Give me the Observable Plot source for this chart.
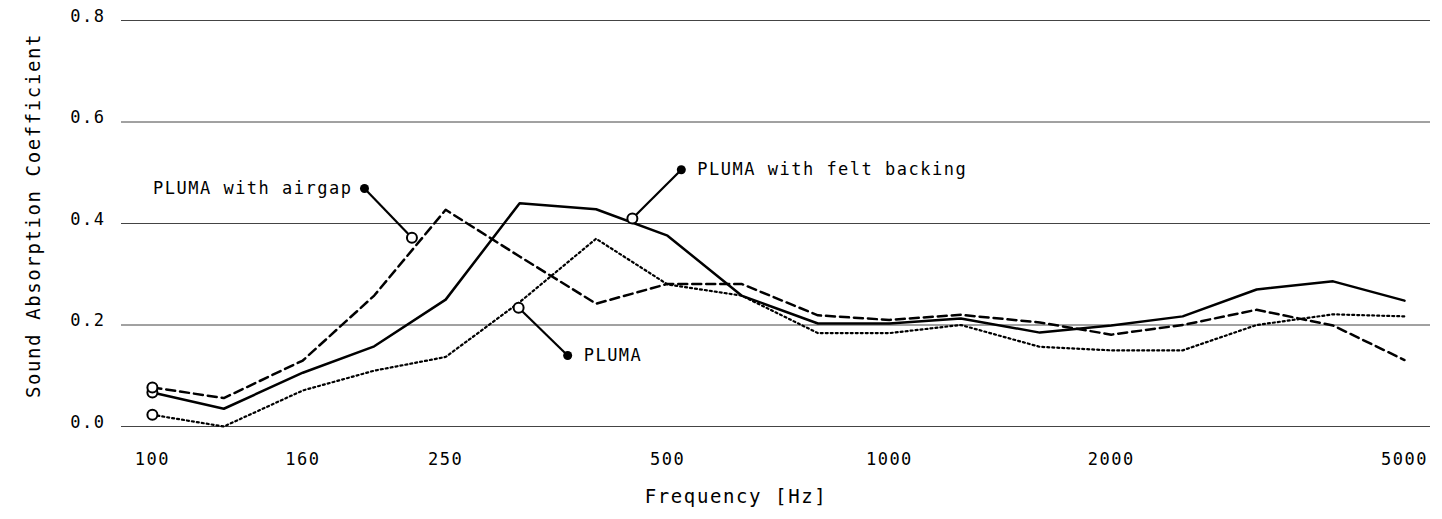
<!DOCTYPE html>
<html>
<head>
<meta charset="utf-8">
<script src="https://cdn.jsdelivr.net/npm/d3@7"></script>
<script src="https://cdn.jsdelivr.net/npm/@observablehq/plot@0.6"></script>
<style>
  html, body { margin: 0; padding: 0; background: #fff; }
  svg text { letter-spacing: 1.5px; }
  .axis-title text, text.axis-title { letter-spacing: 1.6px; }
</style>
</head>
<body>
<div id="chart"></div>
<script>
// Third-octave band centre frequencies (Hz)
const frequencies = [100, 125, 160, 200, 250, 315, 400, 500, 630, 800, 1000, 1250, 1600, 2000, 2500, 3150, 4000, 5000];

// Sound absorption coefficients
const feltBacking = [0.067, 0.035, 0.106, 0.158, 0.250, 0.440, 0.428, 0.376, 0.258, 0.203, 0.203, 0.213, 0.185, 0.199, 0.217, 0.270, 0.286, 0.248];
const airgap      = [0.077, 0.056, 0.130, 0.258, 0.427, 0.335, 0.242, 0.281, 0.281, 0.219, 0.210, 0.220, 0.205, 0.181, 0.200, 0.230, 0.199, 0.131];
const pluma       = [0.023, 0.000, 0.071, 0.110, 0.137, 0.245, 0.370, 0.280, 0.258, 0.184, 0.184, 0.200, 0.157, 0.150, 0.150, 0.200, 0.221, 0.217];

// Axis ticks
const xTicks = [100, 160, 250, 500, 1000, 2000, 5000];
const yTicks = [0, 0.2, 0.4, 0.6, 0.8];

// Annotations: point on curve -> label anchor
const annoLabels  = ["PLUMA with airgap", "PLUMA with felt backing", "PLUMA"];
const annoCurveX  = [225, 448, 314];
const annoCurveY  = [0.372, 0.410, 0.234];
const annoLabelX  = [194, 522, 366];
const annoLabelY  = [0.469, 0.506, 0.140];
const annoAnchor  = ["end", "start", "start"];

const xTitle = "Frequency [Hz]";
const yTitle = "Sound Absorption Coefficient";

const mk = (vals) => frequencies.map((f, i) => ({f, v: vals[i]}));
const sFelt = mk(feltBacking), sAir = mk(airgap), sPluma = mk(pluma);
const startPts = [sFelt[0], sAir[0], sPluma[0]];
const annos = annoLabels.map((t, i) => ({
  t, cx: annoCurveX[i], cy: annoCurveY[i], lx: annoLabelX[i], ly: annoLabelY[i], a: annoAnchor[i]
}));

const font = "'DejaVu Sans Mono', 'Liberation Mono', monospace";

const chart = Plot.plot({
  width: 1442,
  height: 519,
  marginLeft: 121,
  marginRight: 12,
  marginTop: 20,
  marginBottom: 93,
  style: {fontFamily: font, fontSize: "17px", color: "#000", background: "#fff", overflow: "visible"},
  x: {type: "log", domain: [90.8, 5423]},
  y: {domain: [0, 0.8]},
  marks: [
    Plot.ruleY(yTicks, {stroke: "#444", strokeWidth: 1}),
    Plot.axisY({ticks: yTicks, tickSize: 0, tickPadding: 16, dy: -4, tickFormat: d3.format(".1f"), label: null, fontSize: 17}),
    Plot.axisX({ticks: xTicks, tickSize: 0, tickPadding: 26, tickFormat: d3.format("d"), label: null, fontSize: 17}),
    Plot.line(sAir, {x: "f", y: "v", stroke: "#000", strokeWidth: 2.5, strokeDasharray: "9,5"}),
    Plot.line(sPluma, {x: "f", y: "v", stroke: "#000", strokeWidth: 2.2, strokeDasharray: "2,3"}),
    Plot.line(sFelt, {x: "f", y: "v", stroke: "#000", strokeWidth: 2.5}),
    Plot.link(annos, {x1: "cx", y1: "cy", x2: "lx", y2: "ly", stroke: "#000", strokeWidth: 2.2}),
    Plot.dot(annos, {x: "lx", y: "ly", r: 4.5, fill: "#000", stroke: "none"}),
    Plot.dot(annos, {x: "cx", y: "cy", r: 5, fill: "#fff", stroke: "#000", strokeWidth: 2}),
    Plot.dot(startPts, {x: "f", y: "v", r: 5, fill: "#fff", stroke: "#000", strokeWidth: 2}),
    Plot.text(annos.filter(d => d.a === "end"), {x: "lx", y: "ly", text: "t", textAnchor: "end", dx: -12, fontSize: 17, fill: "#000"}),
    Plot.text(annos.filter(d => d.a === "start"), {x: "lx", y: "ly", text: "t", textAnchor: "start", dx: 16, fontSize: 17, fill: "#000"}),
    Plot.text([xTitle], {frameAnchor: "bottom", text: d => d, textAnchor: "middle", dx: -40, dy: 76, fontSize: 19, fill: "#000", className: "axis-title"}),
    Plot.text([yTitle], {frameAnchor: "left", text: d => d, textAnchor: "middle", lineAnchor: "middle", rotate: -90, dx: -88, dy: -8, fontSize: 19, fill: "#000", className: "axis-title"})
  ]
});
document.getElementById("chart").appendChild(chart);
</script>
</body>
</html>
